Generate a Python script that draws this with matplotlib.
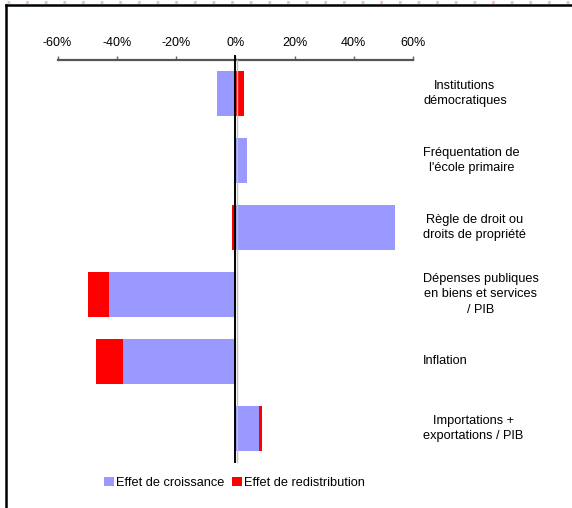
import matplotlib
matplotlib.use("Agg")
import matplotlib.pyplot as plt
from matplotlib.lines import Line2D
from matplotlib.ticker import FuncFormatter
from matplotlib.transforms import blended_transform_factory
import numpy as np

plt.rcParams['font.family'] = ['Liberation Sans', 'DejaVu Sans']

categories = [
    "Institutions\ndémocratiques",
    "Fréquentation de\nl'école primaire",
    "Règle de droit ou\ndroits de propriété",
    "Dépenses publiques\nen biens et services\n/ PIB",
    "Inflation",
    "Importations +\nexportations / PIB",
]
effet_croissance = [-6.1, 4.0, 54.0, -42.6, -37.8, 8.1]
effet_redistribution = [3.0, 0.0, -1.0, -7.1, -9.1, 1.0]
x_ticks = [-60, -40, -20, 0, 20, 40, 60]

BLUE = "#9999FF"
RED = "#FF0000"

fig = plt.figure(figsize=(5.72, 5.08), dpi=100)
ax = fig.add_axes([0.1007, 0.0906, 0.6213, 0.7913])

y = np.arange(len(categories))
g = np.array(effet_croissance)
r = np.array(effet_redistribution)
# stack positives on positives and negatives on negatives
r_left = np.where(np.sign(g) == np.sign(r), g, 0.0)

ax.barh(y, g, height=0.67, color=BLUE, label="Effet de croissance", zorder=2)
ax.barh(y, r, left=r_left, height=0.67, color=RED, label="Effet de redistribution", zorder=2)

ax.set_xlim(-60, 60)
ax.set_ylim(len(categories) - 0.5, -0.5)
ax.xaxis.tick_top()
ax.set_xticks(x_ticks)
ax.xaxis.set_major_formatter(FuncFormatter(lambda v, p: f"{v:.0f}%"))
ax.tick_params(axis="x", direction="out", length=2.6, width=1, color="#606060",
               labelsize=9, pad=5.5)
ax.set_yticks([])
for s in ["right", "bottom", "left"]:
    ax.spines[s].set_visible(False)
ax.spines["top"].set_color("#555555")
ax.spines["top"].set_linewidth(1.6)

# zero line with its light shadow
ax.plot([0.45, 0.45], [-0.5, len(categories) - 0.5], color="#C0C0C0", lw=1.0,
        zorder=3, clip_on=False)
ax.plot([0, 0], [-0.56, len(categories) - 0.5], color="black", lw=1.4, zorder=4,
        clip_on=False)

# category labels on the right
label_tr = blended_transform_factory(fig.transFigure, ax.transData)
for yi, lab in zip(y, categories):
    ax.text(423 / 572, yi, lab, transform=label_tr,
            ha="left", va="center", multialignment="center", fontsize=9.2,
            linespacing=1.38)

fig.legend(loc="center", bbox_to_anchor=(0.41, 0.049), ncol=2, frameon=False,
           fontsize=9.2, handlelength=0.75, handleheight=0.75, handletextpad=0.2,
           columnspacing=0.6, borderpad=0)

# outer frame
fig.add_artist(Line2D([5.5 / 572, 1.0], [1 - 5 / 508, 1 - 5 / 508], color="black",
                      lw=1.8, transform=fig.transFigure))
fig.add_artist(Line2D([5.5 / 572, 5.5 / 572], [0, 1 - 5 / 508], color="black",
                      lw=1.8, transform=fig.transFigure))
fig.add_artist(Line2D([7 / 572, 1.0], [1 - 1.5 / 508, 1 - 1.5 / 508], color="#E8C0CE",
                      lw=2.2, dashes=(0.9, 5.2), transform=fig.transFigure))

fig.savefig("out.png", dpi=100)
